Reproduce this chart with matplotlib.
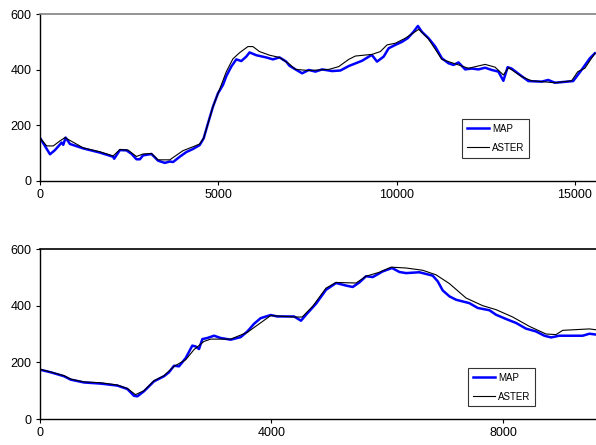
import matplotlib.pyplot as plt

plt.rcParams['font.family'] = ['Liberation Sans', 'DejaVu Sans']

# top profile
top_map_x = [0, 280, 420, 606, 653, 718, 840, 1212, 1680, 2050, 2080, 2240, 2426, 2570,
             2705, 2800, 2890, 3125, 3310, 3500, 3640, 3730, 3917, 4104, 4290, 4477,
             4589, 4710, 4850, 4990, 5130, 5225, 5363, 5504, 5644, 5784, 5876, 6063,
             6343, 6530, 6716, 6903, 6996, 7163, 7350, 7537, 7723, 7910, 8190, 8423,
             8657, 9030, 9263, 9310, 9450, 9637, 9777, 9963, 10150, 10310, 10473,
             10596, 10708, 10895, 11082, 11268, 11454, 11596, 11735, 11920, 12110,
             12293, 12480, 12666, 12853, 12993, 13112, 13224, 13460, 13693, 14066,
             14250, 14440, 14950, 15185, 15418, 15560]
top_map_y = [155, 96, 111, 138, 130, 156, 133, 117, 102, 87, 80, 111, 110, 97,
             78, 78, 92, 97, 73, 65, 70, 68, 87, 104, 115, 129,
             153, 207, 267, 315, 345, 377, 411, 437, 431, 447, 462, 452,
             444, 437, 444, 429, 414, 401, 387, 399, 393, 401, 395, 397,
             413, 432, 450, 452, 429, 447, 477, 489, 500, 513, 536,
             557, 536, 513, 483, 441, 423, 417, 426, 401, 404,
             401, 407, 399, 393, 360, 409, 404, 381, 359, 357,
             363, 353, 359, 399, 441, 459]

top_aster_x = [0, 187, 373, 560, 700, 1212, 1680, 2050, 2240, 2470, 2705, 2890, 3125,
               3310, 3640, 4010, 4290, 4477, 4589, 4850, 5225, 5410, 5597, 5830, 5970,
               6156, 6436, 6716, 6996, 7163, 7537, 8100, 8376, 8657, 8843, 9310, 9543,
               9730, 9963, 10240, 10622, 10895, 11268, 11548, 12015, 12480, 12760,
               12993, 13140, 13507, 13787, 14440, 14905, 15080, 15277, 15560]
top_aster_y = [155, 126, 126, 144, 156, 119, 105, 90, 113, 111, 88, 97, 99,
               76, 76, 109, 123, 133, 154, 267, 393, 439, 461, 483, 483,
               465, 452, 444, 420, 401, 397, 401, 411, 437, 449, 455, 465,
               489, 495, 513, 545, 510, 437, 425, 405, 419, 409,
               381, 407, 375, 360, 353, 360, 393, 405, 459]

# bottom profile
bot_map_x = [0, 184, 415, 530, 760, 1048, 1336, 1509, 1624, 1682, 1797, 1970, 2143,
             2229, 2316, 2402, 2517, 2632, 2690, 2748, 2805, 2892, 3007, 3122, 3295,
             3468, 3583, 3698, 3813, 3986, 4101, 4274, 4390, 4510, 4597, 4770, 4942,
             5115, 5288, 5403, 5518, 5634, 5749, 5922, 6083, 6210, 6325, 6555, 6786,
             6872, 6958, 7074, 7189, 7419, 7563, 7765, 7880, 8053, 8226, 8398, 8571,
             8715, 8830, 8974, 9147, 9378, 9493, 9608]
bot_map_y = [174, 165, 151, 139, 129, 125, 118, 106, 82, 80, 98, 133, 151,
             165, 188, 186, 215, 259, 256, 247, 282, 286, 294, 286, 280,
             289, 309, 336, 356, 367, 362, 362, 362, 347, 368, 407, 456,
             480, 471, 466, 482, 504, 501, 521, 533, 519, 515, 518, 506,
             486, 454, 433, 421, 409, 392, 384, 368, 353, 339, 319, 309,
             294, 288, 294, 294, 294, 301, 298]

bot_aster_x = [0, 184, 415, 530, 760, 1048, 1336, 1509, 1650, 1797, 1970, 2143, 2316,
               2517, 2661, 2834, 2949, 3295, 3583, 3986, 4390, 4530, 4712, 4942, 5115,
               5461, 5634, 5864, 6066, 6325, 6613, 6843, 7074, 7362, 7650, 7880, 8168,
               8456, 8744, 8917, 9032, 9493, 9608]
bot_aster_y = [176, 166, 153, 141, 131, 128, 120, 108, 86, 100, 135, 153, 186,
               209, 245, 274, 282, 282, 306, 365, 360, 360, 398, 462, 482,
               480, 504, 518, 536, 533, 525, 509, 478, 427, 400, 386, 360,
               327, 300, 298, 313, 318, 315]

fig = plt.figure(figsize=(5.96, 4.45), dpi=100)
ax1 = fig.add_axes([0.0671, 0.5933, 0.9329, 0.3752])
ax2 = fig.add_axes([0.0671, 0.0584, 0.9329, 0.382])


def style(ax, xmax, xticks, topcol):
    ax.set_xlim(0, xmax)
    ax.set_ylim(0, 600)
    ax.set_xticks(xticks)
    ax.set_yticks([0, 200, 400, 600])
    ax.spines['right'].set_visible(False)
    ax.spines['top'].set_color(topcol)
    ax.spines['top'].set_linewidth(1.2)
    ax.spines['left'].set_linewidth(1.0)
    ax.spines['bottom'].set_linewidth(1.0)
    ax.tick_params(direction='out', length=3, width=0.8, labelsize=9, pad=3,
                   colors='black')


def add_legend(ax, x, y):
    leg = ax.legend(loc='upper left', bbox_to_anchor=(x, y), fontsize=7, frameon=True,
                    fancybox=False, edgecolor='black', handlelength=2.3, borderpad=0.5,
                    labelspacing=0.9, handletextpad=0.3, borderaxespad=0)
    leg.get_frame().set_linewidth(0.8)


ax1.plot(top_map_x, top_map_y, color='#0000ff', lw=1.8, label='MAP')
ax1.plot(top_aster_x, top_aster_y, color='black', lw=0.8, label='ASTER')
style(ax1, 15590, [0, 5000, 10000, 15000], '#808080')
add_legend(ax1, 0.759, 0.371)

ax2.plot(bot_map_x, bot_map_y, color='#0000ff', lw=1.8, label='MAP')
ax2.plot(bot_aster_x, bot_aster_y, color='black', lw=0.8, label='ASTER')
style(ax2, 9607, [0, 4000, 8000], 'black')
add_legend(ax2, 0.770, 0.30)

fig.savefig('out.png', dpi=100)
